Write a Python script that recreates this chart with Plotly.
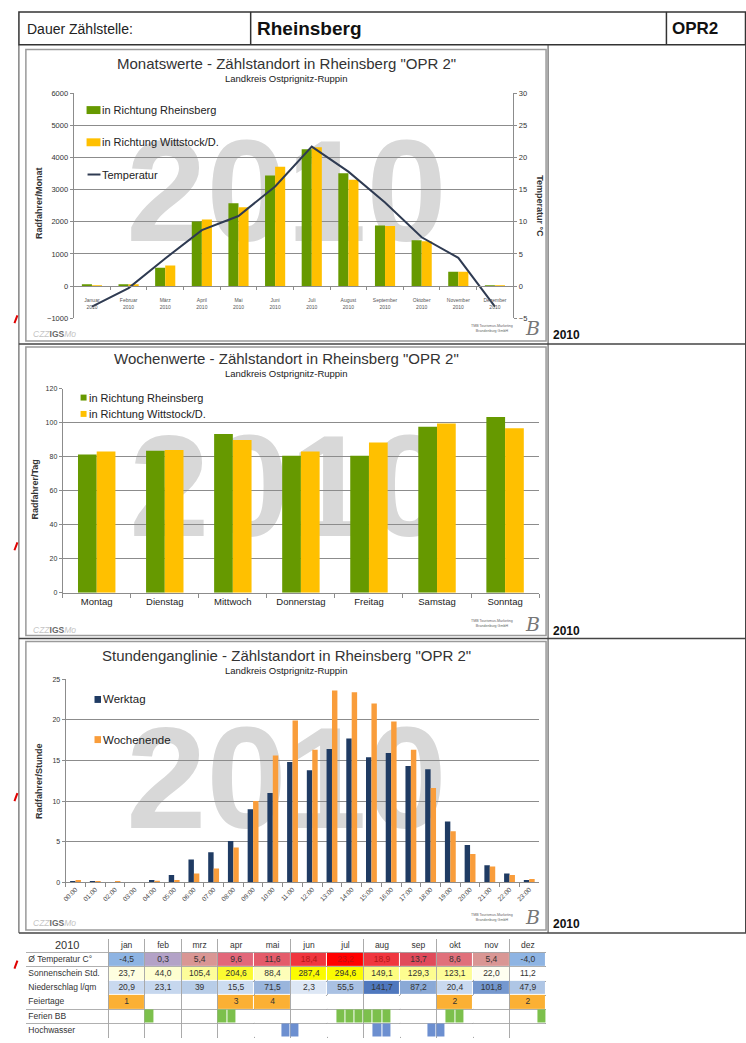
import plotly.graph_objects as go

W, H = 746, 1043
def px(x): return x / W
def py(y): return 1 - y / H

# ---------------- data ----------------
year = "2010"
months = ["Januar", "Februar", "März", "April", "Mai", "Juni", "Juli", "August",
          "September", "Oktober", "November", "Dezember"]
month_rheinsberg = [30, 35, 570, 2010, 2575, 3440, 4260, 3510, 1885, 1425, 445, 15]
month_wittstock = [25, 30, 640, 2070, 2450, 3715, 4320, 3305, 1870, 1395, 445, 12]
month_temp = [-3.2, -0.3, 4.3, 8.7, 10.9, 15.5, 21.7, 17.8, 13.0, 7.6, 4.4, -3.2]

days = ["Montag", "Dienstag", "Mittwoch", "Donnerstag", "Freitag", "Samstag", "Sonntag"]
day_rheinsberg = [81.3, 83.5, 93.3, 80.6, 80.6, 97.6, 103.4]
day_wittstock = [83.1, 83.9, 89.9, 83.1, 88.3, 99.5, 96.8]

hours = ["00:00", "01:00", "02:00", "03:00", "04:00", "05:00", "06:00", "07:00",
         "08:00", "09:00", "10:00", "11:00", "12:00", "13:00", "14:00", "15:00",
         "16:00", "17:00", "18:00", "19:00", "20:00", "21:00", "22:00", "23:00"]
hour_werktag = [0.1, 0.05, 0.0, 0.0, 0.3, 0.9, 2.8, 3.7, 5.1, 9.0, 11.0, 14.8,
                13.8, 16.4, 17.7, 15.4, 15.9, 14.3, 13.9, 7.5, 4.6, 2.1, 1.1, 0.3]
hour_wochenende = [0.3, 0.1, 0.05, 0.0, 0.2, 0.3, 1.1, 1.7, 4.3, 10.0, 15.6, 19.9,
                   16.3, 23.6, 23.4, 22.0, 19.8, 16.3, 11.6, 6.3, 3.5, 1.95, 0.9, 0.4]

table_months = ["jan", "feb", "mrz", "apr", "mai", "jun", "jul", "aug", "sep", "okt", "nov", "dez"]
row_labels = ["Ø Temperatur C°", "Sonnenschein Std.", "Niederschlag l/qm", "Feiertage", "Ferien BB", "Hochwasser"]
temp_table = ["-4,5", "0,3", "5,4", "9,6", "11,6", "18,4", "23,2", "18,9", "13,7", "8,6", "5,4", "-4,0"]
sun_table = ["23,7", "44,0", "105,4", "204,6", "88,4", "287,4", "294,6", "149,1", "129,3", "123,1", "22,0", "11,2"]
rain_table = ["20,9", "23,1", "39", "15,5", "71,5", "2,3", "55,5", "141,7", "87,2", "20,4", "101,8", "47,9"]
holidays = ["1", "", "", "3", "4", "", "", "", "", "2", "", "2"]
ferien_weeks = {"feb": [1], "apr": [1, 2], "jul": [2, 3, 4], "aug": [1, 2, 3], "okt": [2, 3], "dez": [4]}
hochwasser_weeks = {"mai": [4], "jun": [1], "aug": [2, 3], "sep": [4], "okt": [1]}

# ---------------- styles ----------------
GREEN = "#669900"
YELLOW = "#ffc000"
TEMPLINE = "#2f3b52"
NAVY = "#1f3b63"
ORANGE = "#f99d3b"
AX = "#8c8c8c"
GRID = "#8c8c8c"
WM = "#d8d8d8"
FONT = "Liberation Sans, Arial, sans-serif"

temp_fill = ["#8eb4e3", "#b3a2c7", "#d99694", "#e2677a", "#e45b6a", "#f0363f",
             "#ff0000", "#f0363f", "#e04b5b", "#e0707b", "#d99694", "#8eb4e3"]
temp_text = ["#333", "#333", "#333", "#333", "#333", "#b01818", "#c01010", "#b01818",
             "#333", "#333", "#333", "#333"]
sun_fill = ["#fefee0", "#fefed0", "#fdfd9a", "#fbfb30", "#fdfdb8", "#fbfb00",
            "#fbfb00", "#fdfd80", "#fdfd90", "#fdfd98", "#fefef0", "#ffffff"]
rain_fill = ["#c9d9ef", "#c6d7ee", "#b8cde8", "#ccdcf0", "#9ab5dc", "#dde7f5",
             "#a9c1e3", "#4f78be", "#8aa9d6", "#c9d9ef", "#7598cf", "#afc6e5"]
HOLI = "#fbb034"
FERIEN_C = "#7cc04c"
HOCH_C = "#6c8fd0"
TGRID = "#a6a6a6"

# table geometry (in table units = pixels)
col_w = [83] + [36.67] * 12
row_h = [14] + [14.3] * 6
x_edges = [0]
for w in col_w:
    x_edges.append(x_edges[-1] + w)
y_edges = [0]
for h in row_h:
    y_edges.append(y_edges[-1] + h)
TABLE_TOP = 943
TABLE_LEFT = 22

fig = go.Figure()

# Chart 1: Monatswerte
fig.add_trace(go.Bar(x=months, y=month_rheinsberg, name="in Richtung Rheinsberg",
                     marker=dict(color=GREEN, line_width=0), xaxis="x", yaxis="y"))
fig.add_trace(go.Bar(x=months, y=month_wittstock, name="in Richtung Wittstock/D.",
                     marker=dict(color=YELLOW, line_width=0), xaxis="x", yaxis="y"))
fig.add_trace(go.Scatter(x=[], y=[], xaxis="x", yaxis="y5", hoverinfo="skip"))
fig.add_trace(go.Scatter(x=months, y=month_temp, name="Temperatur", mode="lines",
                         line=dict(color=TEMPLINE, width=2), xaxis="x", yaxis="y2"))

# Chart 2: Wochenwerte
fig.add_trace(go.Bar(x=days, y=day_rheinsberg, name="in Richtung Rheinsberg",
                     marker=dict(color=GREEN, line_width=0), xaxis="x2", yaxis="y3"))
fig.add_trace(go.Bar(x=days, y=day_wittstock, name="in Richtung Wittstock/D.",
                     marker=dict(color=YELLOW, line_width=0), xaxis="x2", yaxis="y3"))

# Chart 3: Stundenganglinie
fig.add_trace(go.Bar(x=hours, y=hour_werktag, name="Werktag",
                     marker=dict(color=NAVY, line_width=0), xaxis="x3", yaxis="y4"))
fig.add_trace(go.Bar(x=hours, y=hour_wochenende, name="Wochenende",
                     marker=dict(color=ORANGE, line_width=0), xaxis="x3", yaxis="y4"))

# ---------------- table (heatmap cells + text) ----------------
fill_rows = [["white"] * 13,
             ["white"] + temp_fill,
             ["white"] + sun_fill,
             ["white"] + rain_fill,
             ["white"] + [HOLI if h else "white" for h in holidays],
             ["white"] * 13,
             ["white"] * 13]
palette = []
for r in fill_rows:
    for c in r:
        if c not in palette:
            palette.append(c)
n = len(palette)
cscale = []
for k, c in enumerate(palette):
    lo = max(0.0, (k - 0.5) / (n - 1))
    hi = min(1.0, (k + 0.5) / (n - 1))
    cscale += [[lo, c], [hi, c]]
zidx = [[palette.index(c) for c in r] for r in fill_rows]
fig.add_trace(go.Heatmap(z=zidx, x=x_edges, y=y_edges, zmin=0, zmax=n - 1, colorscale=cscale,
                         showscale=False, xgap=1, ygap=1, hoverinfo="skip",
                         xaxis="x5", yaxis="y7"))

# weekly rows (Ferien / Hochwasser)
week_edges = [x_edges[1] + i * col_w[1] / 4 for i in range(49)]
z = [[None] * 48, [None] * 48]
for m, wk in ferien_weeks.items():
    for w in wk:
        z[0][table_months.index(m) * 4 + w - 1] = 1
for m, wk in hochwasser_weeks.items():
    for w in wk:
        z[1][table_months.index(m) * 4 + w - 1] = 2
fig.add_trace(go.Heatmap(z=z, x=week_edges, y=y_edges[5:8], zmin=1, zmax=2,
                         colorscale=[[0, FERIEN_C], [0.5, FERIEN_C], [0.5, HOCH_C], [1, HOCH_C]],
                         showscale=False, xgap=1, ygap=1, hoverinfo="skip",
                         xaxis="x5", yaxis="y7"))

# texts
col_c = [(x_edges[i] + x_edges[i + 1]) / 2 for i in range(13)]
row_c = [(y_edges[i] + y_edges[i + 1]) / 2 for i in range(7)]
fig.add_trace(go.Scatter(x=[2.5] * 6, y=row_c[1:], text=row_labels, mode="text",
                         textposition="middle right", cliponaxis=False, hoverinfo="skip",
                         textfont=dict(family=FONT, size=8.5, color="#333"),
                         xaxis="x5", yaxis="y7"))
fig.add_trace(go.Scatter(x=col_c, y=[row_c[0]] * 13, text=[year] + table_months, mode="text",
                         textposition="middle center", cliponaxis=False, hoverinfo="skip",
                         textfont=dict(family=FONT, size=[11] + [8.5] * 12, color="#333"),
                         xaxis="x5", yaxis="y7"))
vx, vy, vt, vc = [], [], [], []
for r, (vals, cols) in enumerate(((temp_table, temp_text), (sun_table, ["#333"] * 12),
                                  (rain_table, ["#333"] * 12), (holidays, ["#333"] * 12))):
    for i in range(12):
        vx.append(col_c[i + 1])
        vy.append(row_c[r + 1])
        vt.append(vals[i])
        vc.append(cols[i])
fig.add_trace(go.Scatter(x=vx, y=vy, text=vt, mode="text", textposition="middle center",
                         cliponaxis=False, hoverinfo="skip",
                         textfont=dict(family=FONT, size=8.5, color=vc),
                         xaxis="x5", yaxis="y7"))

# ---------------- shapes / annotations ----------------
shapes = []
annotations = []

def line(x0, y0, x1, y1, color="#333", width=1.5):
    shapes.append(dict(type="line", xref="paper", yref="paper", x0=px(x0), y0=py(y0),
                       x1=px(x1), y1=py(y1), line=dict(color=color, width=width)))

def rect(x0, y0, x1, y1, color="#9a9a9a", width=1.5, fill="rgba(0,0,0,0)", layer="above"):
    shapes.append(dict(type="rect", xref="paper", yref="paper", x0=px(x0), y0=py(y1),
                       x1=px(x1), y1=py(y0), line=dict(color=color, width=width),
                       fillcolor=fill, layer=layer))

def text(t, x, y, size, color="#222", xanchor="left", yanchor="middle", angle=0, family=FONT, bold=False):
    annotations.append(dict(text=("<b>%s</b>" % t) if bold else t, x=px(x), y=py(y),
                            xref="paper", yref="paper", xanchor=xanchor, yanchor=yanchor,
                            showarrow=False, textangle=angle,
                            font=dict(size=size, color=color, family=family)))

def watermark(cx, cy):
    # label box offset compensates the label's baseline placement
    cx, cy = cx - 4, cy - 16
    shapes.append(dict(type="rect", xref="paper", yref="paper", x0=px(cx - 175), x1=px(cx + 175),
                       y0=py(cy + 65), y1=py(cy - 65), line=dict(width=0),
                       fillcolor="rgba(0,0,0,0)", layer="below",
                       label=dict(text=year, textposition="middle center",
                                  font=dict(size=144, color=WM, family=FONT, weight="bold"))))

watermark(288, 191)
watermark(291, 489)
watermark(288, 783)

# header
rect(15, 8, 745.5, 41, color="#333", width=1.5)
line(248, 8, 248, 41)
line(666, 8, 666, 41)
text("Dauer Zählstelle:", 21, 25, 14, color="#222")
text("Rheinsberg", 252, 25, 19, color="#111", bold=True)
text("OPR2", 670, 25, 17, color="#111", bold=True)

# page grid
line(15, 41, 15, 937, color="#444", width=1)
line(745.5, 41, 745.5, 937, color="#444", width=1)
line(547, 41, 547, 937, color="#444", width=1)
for yy in (343, 640, 937):
    line(15, yy, 746, yy, color="#444", width=1.5)

# chart boxes
rect(22, 46, 545, 340)
rect(22, 346, 545, 637)
rect(22, 643, 545, 934)

# red marks on the left
for yy in (318, 547, 800, 969):
    line(10.5, yy + 4, 13.5, yy - 4, color="#e00000", width=2)

# titles
sub = "Landkreis Ostprignitz-Ruppin"
for ttl, ty in (("Monatswerte - Zählstandort in Rheinsberg \"OPR 2\"", 60),
                ("Wochenwerte - Zählstandort in Rheinsberg \"OPR 2\"", 358),
                ("Stundenganglinie - Zählstandort in Rheinsberg \"OPR 2\"", 657)):
    text(ttl, 284.5, ty, 15, color="#333", xanchor="center")
    text(sub, 284.5, ty + 15, 9.5, color="#222", xanchor="center")

# axis titles
text("Radfahrer/Monat", 35, 201, 9, color="#333", xanchor="center", angle=-90, bold=True)
text("Temperatur °C", 539, 204, 9, color="#333", xanchor="center", angle=90, bold=True)
text("Radfahrer/Tag", 31, 490, 9, color="#333", xanchor="center", angle=-90, bold=True)
text("Radfahrer/Stunde", 35, 784, 9, color="#333", xanchor="center", angle=-90, bold=True)

# legends
def legend_box(x, y, w, h, color, label, size):
    shapes.append(dict(type="rect", xref="paper", yref="paper", x0=px(x), x1=px(x + w),
                       y0=py(y + h / 2), y1=py(y - h / 2), fillcolor=color, line=dict(width=0)))
    text(label, x + w, y, size, color="#222")

legend_box(83, 107, 14, 8, GREEN, "in Richtung Rheinsberg", 11)
legend_box(83, 139.5, 14, 8, YELLOW, "in Richtung Wittstock/D.", 11)
line(84, 172, 97, 172, color=TEMPLINE, width=2)
text("Temperatur", 97, 172, 11, color="#222")
legend_box(77, 397, 6, 6, GREEN, "in Richtung Rheinsberg", 11)
legend_box(77, 413.5, 6, 6, YELLOW, "in Richtung Wittstock/D.", 11)
legend_box(91, 701.5, 6.5, 7, NAVY, "Werktag", 11.5)
legend_box(91, 742, 6.5, 7, ORANGE, "Wochenende", 11.5)

# logos and year labels
igs = ("<i><span style='color:#c4c4c4'>CZZ</span></i><b><span style='color:#6a6a6a'>IGS</span></b>"
       "<i><span style='color:#c4c4c4'>Mo</span></i>")
for by in (333, 631, 927):
    text(igs, 27, by, 8.5)
    text("TMB Tourismus-Marketing<br>Brandenburg GmbH", 514, by - 6, 3.6, color="#666",
         xanchor="right")
    text("<i>B</i>", 531, by - 6, 19, color="#777", xanchor="center",
         family="DejaVu Serif, serif")
    text(year, 550, by + 1, 12, color="#111", bold=True)

# ---------------- layout ----------------
axis_common = dict(showline=True, linecolor=AX, linewidth=1, tickcolor=AX, zeroline=False,
                   fixedrange=True)
fig.update_layout(
    width=W, height=H, margin=dict(l=0, r=0, t=0, b=0),
    paper_bgcolor="white", plot_bgcolor="rgba(0,0,0,0)",
    font=dict(family=FONT, color="#222"),
    barmode="group", bargap=0.45, bargroupgap=0, showlegend=False, hovermode=False,
    xaxis=dict(domain=[px(70), px(512)], anchor="free", position=py(284.5), type="category",
               ticks="outside", tickson="boundaries", ticklen=3, showgrid=False,
               ticklabelstandoff=9,
               tickvals=months, ticktext=[m + "<br>" + year for m in months],
               tickfont=dict(size=5, color="#555"), **axis_common),
    yaxis=dict(domain=[py(317), py(90)], anchor="x", range=[-1000, 6000],
               tickvals=[-1000, 0, 1000, 2000, 3000, 4000, 5000, 6000], tickformat="d",
               ticks="outside", ticklen=3, showgrid=False,
               tickfont=dict(size=7.5, color="#333"), **axis_common),
    yaxis2=dict(overlaying="y", side="right", anchor="x", range=[-5, 30],
                tickvals=[-5, 0, 5, 10, 15, 20, 25, 30], ticks="outside", ticklen=3,
                showgrid=False, tickfont=dict(size=7.5, color="#333"), **axis_common),
    yaxis5=dict(overlaying="y", anchor="x", range=[-1000, 6000],
                tickvals=[0, 1000, 2000, 3000, 4000, 5000, 6000], showgrid=True,
                gridcolor=GRID, gridwidth=1, showticklabels=False, showline=False,
                ticks="", zeroline=False, fixedrange=True),
    xaxis2=dict(domain=[px(59), px(538)], anchor="y3", type="category", ticks="outside",
                tickson="boundaries", ticklen=4, showgrid=False,
                tickfont=dict(size=9.5, color="#222"), **axis_common),
    yaxis3=dict(domain=[py(594), py(388)], anchor="x2", range=[0, 120], dtick=20,
                ticks="outside", ticklen=3, showgrid=True, gridcolor=GRID,
                tickfont=dict(size=7, color="#333"), **axis_common),
    xaxis3=dict(domain=[px(62), px(538)], anchor="y4", type="category", ticks="outside",
                tickson="boundaries", ticklen=4, showgrid=False, tickangle=-45,
                tickfont=dict(size=6.5, color="#444"), **axis_common),
    yaxis4=dict(domain=[py(886), py(681)], anchor="x3", range=[0, 25], dtick=5,
                ticks="outside", ticklen=3, showgrid=True, gridcolor=GRID,
                tickfont=dict(size=7, color="#333"), **axis_common),
    xaxis5=dict(domain=[px(TABLE_LEFT), px(TABLE_LEFT + x_edges[-1])], anchor="y7",
                range=[0, x_edges[-1]], tickvals=x_edges, showgrid=True, gridcolor=TGRID,
                gridwidth=1, showticklabels=False, ticks="", showline=False, zeroline=False,
                fixedrange=True),
    yaxis7=dict(domain=[py(TABLE_TOP + y_edges[-1]), py(TABLE_TOP)], anchor="x5",
                range=[y_edges[-1], 0], tickvals=y_edges, showgrid=True, gridcolor=TGRID,
                gridwidth=1, showticklabels=False, ticks="", showline=False, zeroline=False,
                fixedrange=True),
    shapes=shapes, annotations=annotations,
)

fig.write_html("out.html", config={"displayModeBar": False},
               post_script="document.body.style.margin='0';document.body.style.overflow='hidden';")
